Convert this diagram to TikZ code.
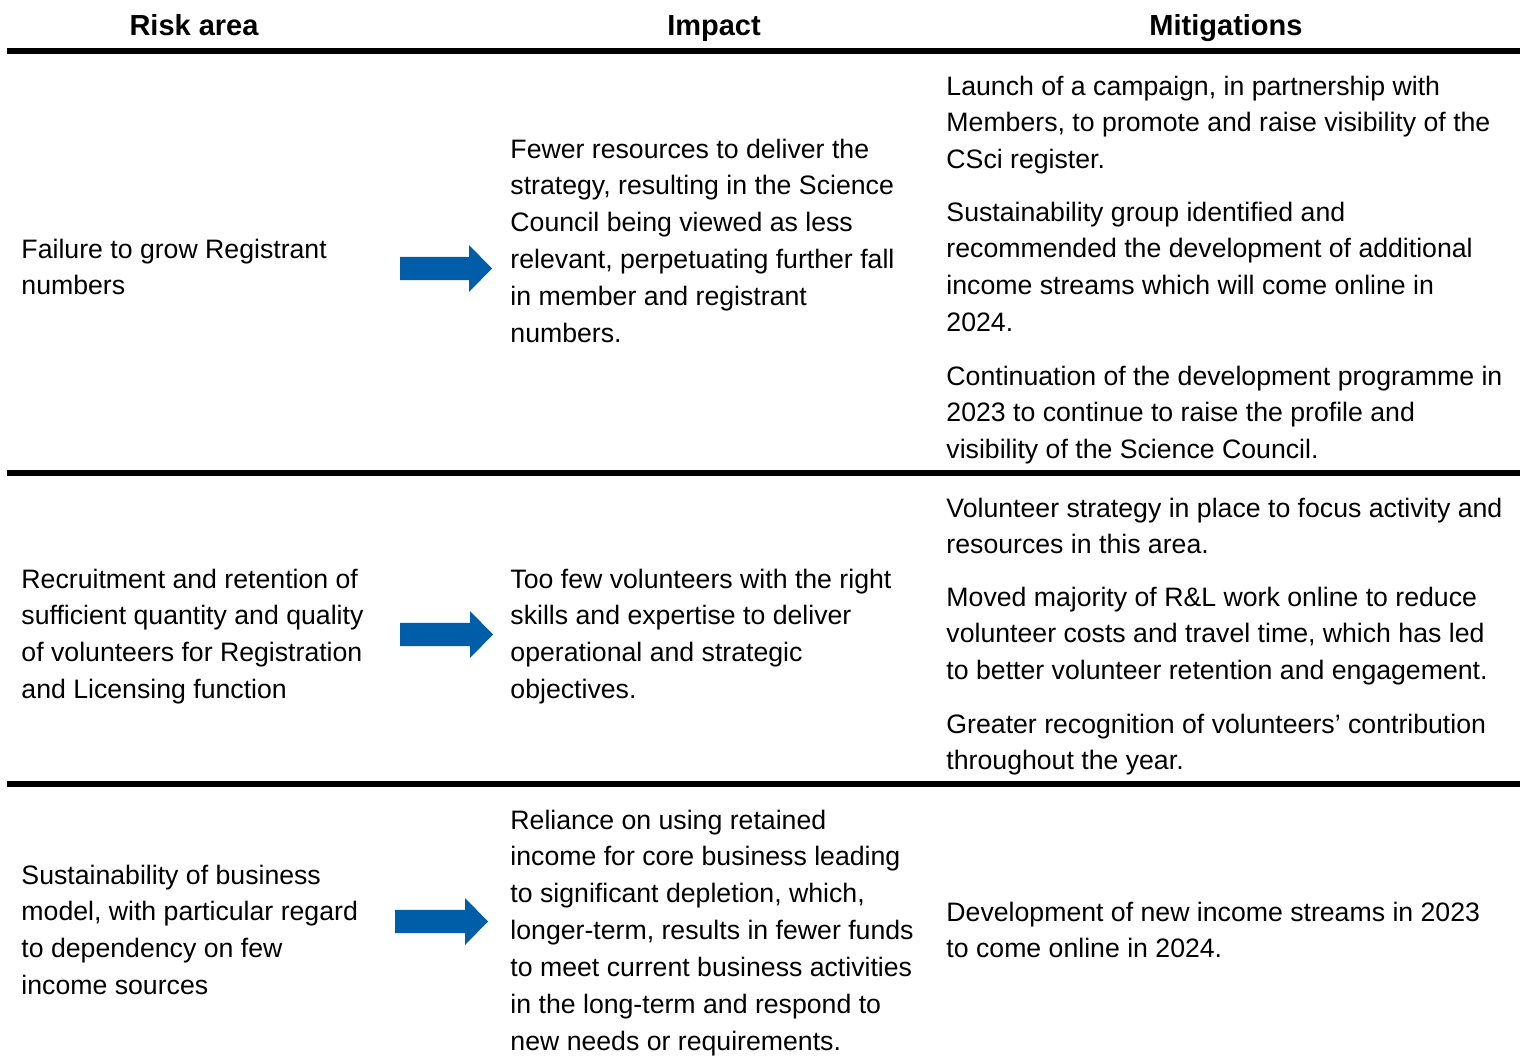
\documentclass[tikz,border=0pt]{standalone}
\usepackage{fontspec}
\setmainfont{Liberation Sans}
\definecolor{arrowblue}{RGB}{0,94,168}
\tikzset{
  txt/.style={anchor=base west, inner sep=0pt, font=\fontsize{20}{27.75}\selectfont},
  hdr/.style={anchor=base, inner sep=0pt, font=\fontsize{21.75}{26}\selectfont\bfseries},
  rule/.style={line width=4.5pt},
  bluearrow/.style={fill=arrowblue, draw=none}
}
\newcommand\celltext[4]{%
  \foreach \t [count=\i] in {#4} {
    \node[txt] (#1-\i) at ({#2-0.8}, {#3-1+(\i-1)*36.85}) {\t};
  }%
}
\newcommand\blockarrow[5]{% x0, x1 (head start), x2 (tip), ymid, name
  \fill[bluearrow] (#1,#4-11.7) -- (#2,#4-11.7) -- (#2,#4-23.5) -- (#3,#4) -- (#2,#4+23.5) -- (#2,#4+11.7) -- (#1,#4+11.7) -- cycle;
  \coordinate (#5) at (#3,#4);
}
\begin{document}
\begin{tikzpicture}[x=0.75pt, y=-0.75pt]
\useasboundingbox (0,0) rectangle (1524,1060);
% headers
\node[hdr] (h1) at (194,35) {Risk area};
\node[hdr] (h2) at (714,35) {Impact};
\node[hdr] (h3) at (1226,35) {Mitigations};
% rules
\draw[rule] (7,51.3) -- (1520,51.3);
\draw[rule] (7,473) -- (1520,473);
\draw[rule] (7,784) -- (1520,784);
% row 1
\celltext{ra}{22}{259}{{Failure to grow Registrant}, {numbers}}
\blockarrow{400}{469}{492}{268.5}{a1}
\celltext{ia}{511}{159}{{Fewer resources to deliver the}, {strategy, resulting in the Science}, {Council being viewed as less}, {relevant, perpetuating further fall}, {in member and registrant}, {numbers.}}
\celltext{maa}{947}{96}{{Launch of a campaign, in partnership with}, {Members, to promote and raise visibility of the}, {CSci register.}}
\celltext{mab}{947}{222}{{Sustainability group identified and}, {recommended the development of additional}, {income streams which will come online in}, {2024.}}
\celltext{mac}{947}{386}{{Continuation of the development programme in}, {2023 to continue to raise the profile and}, {visibility of the Science Council.}}
% row 2
\celltext{rb}{22}{589}{{Recruitment and retention of}, {sufficient quantity and quality}, {of volunteers for Registration}, {and Licensing function}}
\blockarrow{400}{470}{493}{634.5}{a2}
\celltext{ib}{511}{589}{{Too few volunteers with the right}, {skills and expertise to deliver}, {operational and strategic}, {objectives.}}
\celltext{mba}{947}{518}{{Volunteer strategy in place to focus activity and}, {resources in this area.}}
\celltext{mbb}{947}{607}{{Moved majority of R\&L work online to reduce}, {volunteer costs and travel time, which has led}, {to better volunteer retention and engagement.}}
\celltext{mbc}{947}{734}{{Greater recognition of volunteers’ contribution}, {throughout the year.}}
% row 3
\celltext{rc}{22}{885}{{Sustainability of business}, {model, with particular regard}, {to dependency on few}, {income sources}}
\blockarrow{395}{465}{488}{921.5}{a3}
\celltext{ic}{511}{830}{{Reliance on using retained}, {income for core business leading}, {to significant depletion, which,}, {longer-term, results in fewer funds}, {to meet current business activities}, {in the long-term and respond to}, {new needs or requirements.}}
\celltext{mc}{947}{922}{{Development of new income streams in 2023}, {to come online in 2024.}}
\end{tikzpicture}
\end{document}
